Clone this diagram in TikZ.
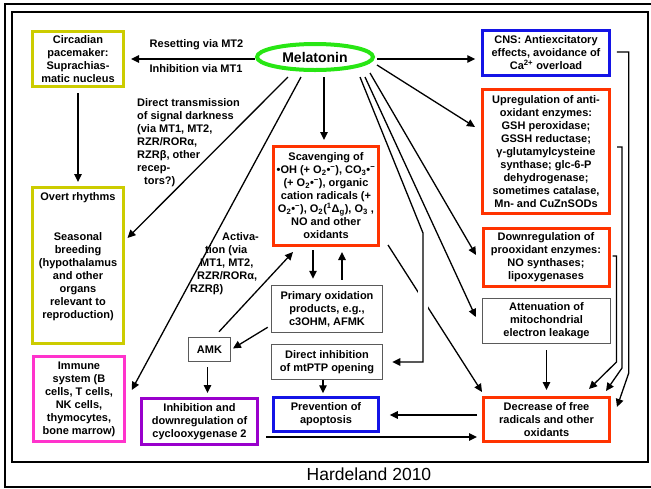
\documentclass[tikz,border=0pt]{standalone}
\usepackage{fontspec}
\setmainfont{Liberation Sans}
\usetikzlibrary{arrows.meta,shapes.geometric}
\definecolor{olivebox}{RGB}{204,204,0}
\definecolor{greenring}{RGB}{40,230,20}
\definecolor{bluebox}{RGB}{20,20,230}
\definecolor{redbox}{RGB}{255,51,0}
\definecolor{pinkbox}{RGB}{255,51,204}
\definecolor{purplebox}{RGB}{153,0,204}
\definecolor{greybox}{RGB}{90,90,90}
\tikzset{
  every node/.style={font=\bfseries\fontsize{11}{13}\selectfont},
  box/.style={draw, line width=3pt, align=center, inner sep=0pt},
  thinbox/.style={draw=greybox, line width=1.5pt, align=center, inner sep=0pt},
  arr/.style={-{Triangle[length=8pt,width=7.5pt]}, line width=1.3pt}
}
\begin{document}
\begin{tikzpicture}[x=1pt,y=-1pt]
\useasboundingbox (0,0) rectangle (651,488);
% frames
\draw[line width=2pt] (4.5,3.5) rectangle (660,487);
\draw[line width=2pt] (11.5,12) rectangle (648,462);
\node (cite) at (369,474) {\mdseries\fontsize{17.5}{20}\selectfont Hardeland 2010};

% centre
\node[ellipse, draw=greenring, line width=4pt, minimum width=116pt, minimum height=26pt,
  inner sep=0pt, font=\bfseries\fontsize{14}{16}\selectfont] (mel) at (315,57) {Melatonin};

% left column
\node[box, draw=olivebox, minimum width=91pt, minimum height=55pt] (circ) at (78,59)
  {Circadian\\pacemaker:\\Suprachias-\\matic nucleus};
\node[box, draw=olivebox, minimum width=91pt, minimum height=156pt] (overt) at (78,265.5)
  {\parbox[c][153pt][t]{90pt}{\centering\vspace*{4pt}Overt rhythms\\[27pt]Seasonal\\breeding\\(hypothalamus\\and other\\organs\\relevant to\\reproduction)}};
\node[box, draw=pinkbox, line width=2.5pt, minimum width=91pt, minimum height=85pt] (imm) at (79,399)
  {Immune\\system (B\\cells, T cells,\\NK cells,\\thymocytes,\\bone marrow)};

% middle
\node[box, draw=purplebox, minimum width=116pt, minimum height=46pt] (cox) at (199.5,421.5)
  {Inhibition and\\downregulation of\\cyclooxygenase 2};
\node[thinbox, minimum width=42pt, minimum height=24pt] (amk) at (209.5,349.5) {AMK};
\node[box, draw=redbox, minimum width=105pt, minimum height=99pt] (scav) at (326,196)
  {Scavenging of\\•OH (+ O\textsubscript{2}•\textsuperscript{−}), CO\textsubscript{3}•\textsuperscript{−}\\(+ O\textsubscript{2}•\textsuperscript{−}), organic\\cation radicals (+\\O\textsubscript{2}•\textsuperscript{−}), O\textsubscript{2}(\textsuperscript{1}Δ\textsubscript{g}), O\textsubscript{3} ,\\NO and other\\oxidants};
\node[thinbox, minimum width=111pt, minimum height=47pt] (prim) at (327,309)
  {Primary oxidation\\products, e.g.,\\c3OHM, AFMK};
\node[thinbox, minimum width=111pt, minimum height=35pt] (direct) at (327,362)
  {Direct inhibition\\of mtPTP opening};
\node[box, draw=bluebox, line width=2.5pt, minimum width=105pt, minimum height=34pt] (apop) at (326,414.5)
  {Prevention of\\apoptosis};

% right column
\node[box, draw=bluebox, line width=2.5pt, minimum width=127pt, minimum height=45pt] (cns) at (546,53)
  {CNS: Antiexcitatory\\effects, avoidance of\\Ca\textsuperscript{2+} overload};
\node[box, draw=redbox, minimum width=127pt, minimum height=124pt] (upreg) at (546,151.5)
  {Upregulation of anti-\\oxidant enzymes:\\GSH peroxidase;\\GSSH reductase;\\γ-glutamylcysteine\\synthase; glc-6-P\\dehydrogenase;\\sometimes catalase,\\Mn- and CuZnSODs};
\node[box, draw=redbox, minimum width=126pt, minimum height=58pt] (down) at (546,257.5)
  {Downregulation of\\prooxidant enzymes:\\NO synthases;\\lipoxygenases};
\node[thinbox, minimum width=128pt, minimum height=45pt] (atten) at (546.5,321)
  {Attenuation of\\mitochondrial\\electron leakage};
\node[box, draw=redbox, minimum width=126pt, minimum height=44pt] (decr) at (546.5,419.5)
  {Decrease of free\\radicals and other\\oxidants};

% labels
\node (reset) at (196.5,45) {Resetting via MT2};
\node (inhib) at (196,69) {Inhibition via MT1};
\node[align=left, anchor=north west, inner sep=0pt] (dark) at (137,98)
  {Direct transmission\\of signal darkness\\(via MT1, MT2,\\RZR/RORα,\\RZRβ, other\\recep-\\\hspace*{7pt}tors?)};
\node[align=left, anchor=north west, inner sep=0pt] (activ) at (190,232)
  {\hspace*{32pt}Activa-\\\hspace*{15pt}tion (via\\\hspace*{10pt}MT1, MT2,\\\hspace*{7pt}RZR/RORα,\\RZRβ)};

% connectors from melatonin
\draw[arr, shorten >=6pt] ([yshift=-2pt]mel.west) -- ([yshift=-2pt]mel.west -| circ.east);
\draw[arr] ([shift={(-27,20)}]mel.center) -- ([shift={(2.5,-27.5)}]overt.east);
\draw[arr] ([shift={(-14,20)}]mel.center) -- ([shift={(6,-9)}]imm.east);
\draw[arr] ([shift={(9,20)}]mel.center) -- ([shift={(-2,-5)}]scav.north);
\draw[arr] ([shift={(62,2)}]mel.center) -- ([shift={(-6,6)}]cns.west);
\draw[arr] ([shift={(62,8)}]mel.center) -- ([shift={(-6,-24.5)}]upreg.west);
\draw[arr] ([shift={(55,16)}]mel.center) -- ([shift={(-5.5,-2.5)}]down.west);
\draw[arr] ([shift={(50,20)}]mel.center) -- ([shift={(-6,-4)}]atten.west);
\coordinate (bend) at (423,233);
\draw[arr] ([shift={(8,-2)}]scav.south east) -- ([shift={(0,-4)}]decr.north west);
\draw[white, line width=10pt] ([yshift=-57pt]bend) -- ([yshift=-79pt]bend);
\draw[arr] ([shift={(45,20)}]mel.center) -- (bend) |- ([xshift=9pt]direct.east);

% left and middle
\draw[arr, shorten <=5pt, shorten >=4pt] (circ.south) -- (overt.north);
\draw[arr, shorten <=3pt, shorten >=6pt] ([xshift=-13pt]scav.south) -- ([xshift=-13pt]scav.south |- prim.north);
\draw[arr, shorten <=5pt, shorten >=5pt] ([xshift=16pt]scav.south |- prim.north) -- ([xshift=16pt]scav.south);
\draw[arr, shorten >=2pt] ([shift={(-3,-6)}]prim.south west) -- (amk.east);
\draw[arr] ([shift={(9.5,-5)}]amk.north) -- ([shift={(21,5)}]scav.south west);
\draw[arr, shorten <=5pt, shorten >=4pt] ([xshift=-2pt]amk.south) -- ([xshift=-2pt]amk.south |- cox.north);
\draw[arr, shorten >=3pt] ([xshift=-4pt]direct.south) -- ([xshift=-4pt]direct.south |- apop.north);
\draw[arr, shorten <=5pt, shorten >=10pt] ([yshift=4.5pt]decr.west) -- ([yshift=4.5pt]decr.west -| apop.east);
\draw[arr, shorten <=7pt, shorten >=5pt] ([yshift=-15.5pt]cox.east) -- ([yshift=-15.5pt]cox.east -| decr.west);
\draw[arr, shorten <=6pt, shorten >=6pt] (atten.south) -- (atten.south |- decr.north);

% right brackets
\draw[arr] ([shift={(6,-1)}]cns.east) -- ++(12,0) -- ++(0,321) -- ([shift={(6,-12.5)}]decr.east);
\draw[arr] ([shift={(6,-4.5)}]upreg.east) -- ++(5,0) -- ++(0,221) -- ([shift={(-5,-5)}]decr.north east);
\draw[arr] ([shift={(2,-1.5)}]down.east) -- ++(4,0) -- ++(0,106) -- ([shift={(-22,-7)}]decr.north east);
\end{tikzpicture}
\end{document}
